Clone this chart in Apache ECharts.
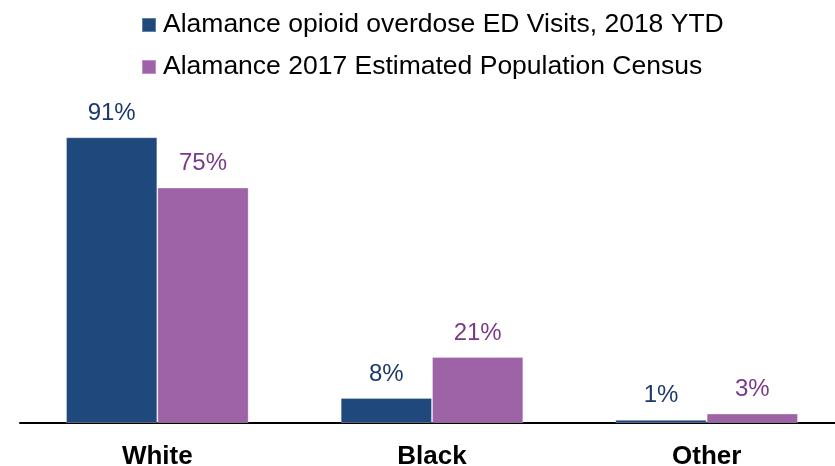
<!DOCTYPE html>
<html>
<head>
<meta charset="utf-8">
<script src="https://cdn.jsdelivr.net/npm/echarts@6/dist/echarts.min.js"></script>
<style>html,body{margin:0;padding:0;background:#fff;}#c{width:835px;height:466px;}</style>
</head>
<body>
<div id="c"></div>
<script>
const categories = ['White', 'Black', 'Other'];
const seriesNames = ['Alamance opioid overdose ED Visits, 2018 YTD', 'Alamance 2017 Estimated Population Census'];
const edVisits = [91, 8, 1];
const census = [75, 21, 3];

const FONT = '"Liberation Sans", Arial, Helvetica, sans-serif';
const chart = echarts.init(document.getElementById('c'));
chart.setOption({
  animation: false,
  backgroundColor: '#ffffff',
  textStyle: { fontFamily: FONT },
  legend: {
    orient: 'vertical',
    left: 141,
    top: 10,
    padding: 0,
    itemWidth: 14,
    itemHeight: 14,
    itemGap: 12,
    icon: 'rect',
    textStyle: { fontSize: 26.5, color: '#000', fontFamily: FONT, lineHeight: 30, padding: [0, 0, 0, 2] },
    data: seriesNames
  },
  grid: { left: 20, width: 824, top: 109, bottom: 43, outerBoundsMode: 'none', containLabel: false },
  xAxis: {
    type: 'category',
    data: categories,
    axisLine: { show: true, lineStyle: { color: '#000', width: 2 } },
    axisTick: { show: false },
    axisLabel: { fontSize: 26, fontWeight: 'bold', color: '#000', margin: 21, fontFamily: FONT }
  },
  yAxis: {
    type: 'value', min: 0, max: 100,
    show: false, splitLine: { show: false }
  },
  series: [
    {
      name: seriesNames[0], type: 'bar', data: edVisits,
      barGap: '0%', barCategoryGap: '33.5%',
      itemStyle: { color: '#1F497D', borderColor: 'rgba(255,255,255,0.3)', borderWidth: 1 },
      label: { show: true, position: 'top', distance: 12, formatter: '{c}%', fontSize: 24, color: '#1B3A6B', fontFamily: FONT }
    },
    {
      name: seriesNames[1], type: 'bar', data: census,
      itemStyle: { color: '#9E62A6', borderColor: 'rgba(255,255,255,0.3)', borderWidth: 1 },
      label: { show: true, position: 'top', distance: 12, formatter: '{c}%', fontSize: 24, color: '#7A3A88', fontFamily: FONT }
    }
  ]
});
</script>
</body>
</html>
